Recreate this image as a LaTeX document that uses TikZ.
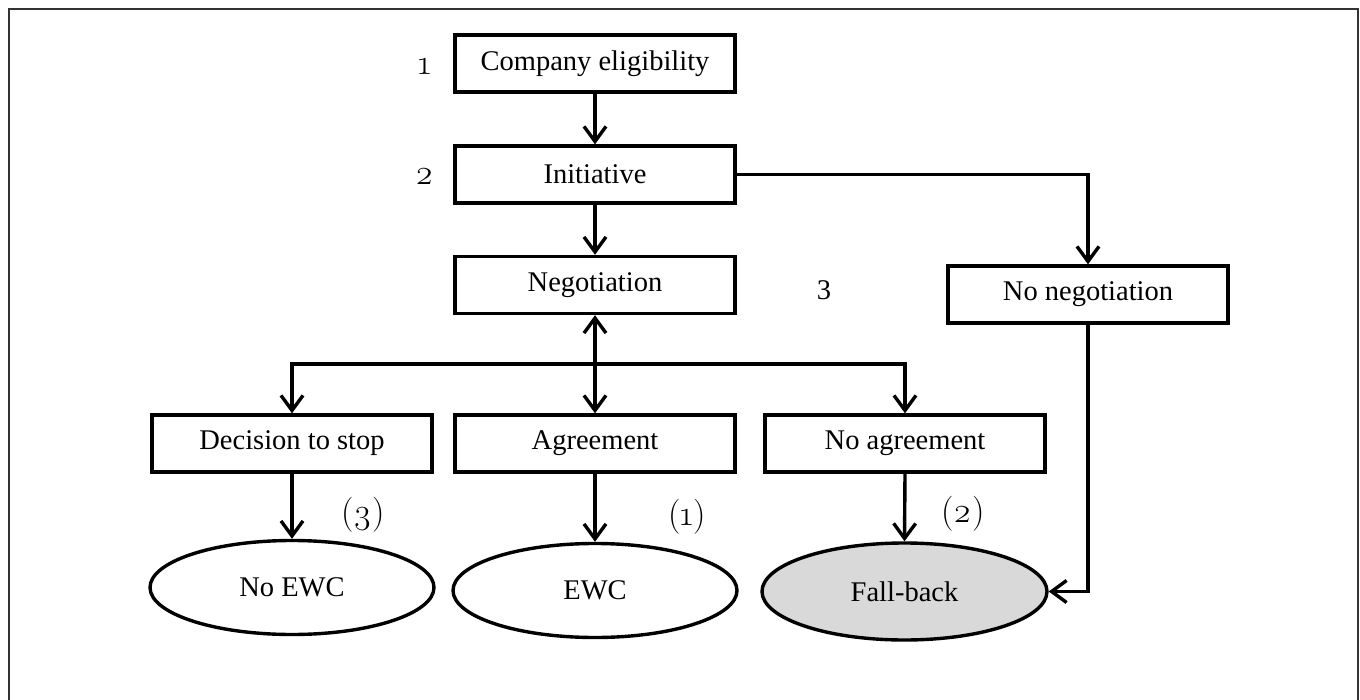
\documentclass[tikz,border=0pt]{standalone}
\usepackage{fontspec}
\setmainfont{Liberation Serif}
\newfontfamily\osfont[Numbers=OldStyle]{Latin Modern Roman}
\usetikzlibrary{arrows.meta,shapes.geometric}

\tikzset{
  flow/.style={line width=3.4pt, line join=miter},
  stepbox/.style={draw, line width=3.4pt, rectangle, inner sep=0pt,
    minimum width=280pt, minimum height=57pt, align=center,
    font=\fontsize{28.5}{32}\selectfont},
  endnode/.style={draw, line width=3.4pt, ellipse, inner sep=0pt,
    minimum width=284pt, minimum height=94pt,
    font=\fontsize{28.5}{32}\selectfont},
  lbl/.style={inner sep=0pt, font=\fontsize{28.5}{32}\selectfont},
  osflbl/.style={inner sep=0pt, font=\fontsize{35}{38}\osfont},
  >={Straight Barb[length=15pt,width=22pt]},
}

\begin{document}
\begin{tikzpicture}[x=1pt,y=-1pt]
  \useasboundingbox (0,0) rectangle (1360,700);

  % outer frame
  \draw[line width=2pt, black!80] (9,9) rectangle (1358,706);

  % process boxes
  \node[stepbox] (comp)    at (595,63.5)  {Company eligibility};
  \node[stepbox] (init)    at (595,174.5) {Initiative};
  \node[stepbox] (nego)    at (595,285)   {Negotiation};
  \node[stepbox] (nonego)  at (1088,294.5){No negotiation};
  \node[stepbox] (stop)    at (292,443.5) {Decision to stop};
  \node[stepbox] (agree)   at (595,443.5) {Agreement};
  \node[stepbox] (noagree) at (905,443.5) {No agreement};

  % outcomes
  \node[endnode] (noewc)    at (292,587.5) {No EWC};
  \node[endnode] (ewc)      at (595,590.5) {EWC};
  \node[endnode, fill=black!15, minimum width=285pt, minimum height=97pt]
                 (fallback) at (904.5,591.5) {Fall-back};

  % step numbers
  \node[osflbl] (n1) at (425,66)  {1};
  \node[osflbl] (n2) at (425,176) {2};
  \node[lbl]    (n3) at (824,290) {3};
  \node[osflbl] (o3) at (363,515) {(3)};
  \node[osflbl] (o1) at (687,517) {(1)};
  \node[osflbl] (o2) at (963,514) {(2)};

  % connectors
  \draw[flow,->] (comp.south) -- (init.north);
  \draw[flow,->] (init.south) -- (nego.north);
  \draw[flow,->] (init.east) -| (nonego.north);
  \draw[flow,<->] (nego.south) -- (agree.north);
  \coordinate (bar) at (595,364);
  \draw[flow,->] (bar) -| (stop.north);
  \draw[flow,->] (bar) -| (noagree.north);
  \draw[flow,->] (stop.south) -- (noewc.north);
  \draw[flow,->] (agree.south) -- (ewc.north);
  \draw[flow,->] (noagree.south) -- (fallback.north);
  \draw[flow,->] (nonego.south) |- (fallback.east);
\end{tikzpicture}
\end{document}
